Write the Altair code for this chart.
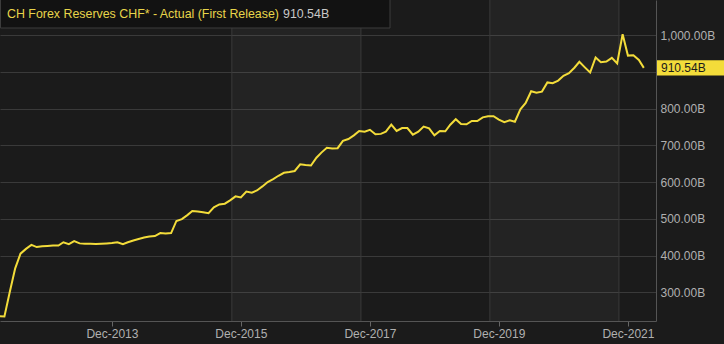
import altair as alt
import pandas as pd

# ---- data ----
dates = pd.date_range("2012-03-01", periods=121, freq="MS").strftime("%Y-%m-%d").tolist()
values = [
    235, 234, 300, 365, 405, 418, 429, 423, 425, 426,
    427, 427, 436, 431, 439, 433, 432, 432, 431, 432,
    433, 434, 436, 431, 436, 441, 445, 449, 452, 453,
    461, 460, 461, 494, 499, 510, 521, 520, 518, 515,
    531, 539, 541, 550, 561, 558, 574, 571, 577, 588,
    600, 608, 617, 625, 627, 630, 648, 646, 645, 666,
    680, 693, 691, 692, 712, 717, 727, 739, 737, 742,
    730, 731, 737, 756, 739, 747, 747, 729, 737, 751,
    746, 727, 739, 738, 756, 771, 758, 757, 766, 766,
    776, 779, 779, 770, 763, 768, 764, 798, 815, 847,
    843, 846, 871, 869, 876, 889, 896, 911, 927, 912,
    898, 939, 926, 928, 938, 923, 1002, 944, 945, 932,
    910.54,
]
tick_years = [2013, 2015, 2017, 2019, 2021]
band_starts = ["2015-10-11", "2019-10-11"]
band_ends = ["2017-10-11", "2021-10-11"]
grid_dates = ["2015-10-11", "2017-10-11", "2019-10-11", "2021-10-11"]
y_ticks = [300, 400, 500, 600, 700, 800, 900, 1000]
last_value = 910.54
title_text = "CH Forex Reserves CHF* - Actual (First Release)"
last_label = "910.54B"

# ---- styling ----
BG = "#1b1b1b"
GRID = "#3a3a3a"
YELLOW = "#f3dc3a"
LABEL = "#b0b0b0"
FONT = "Liberation Sans"
W, H = 656, 321

df = pd.DataFrame({"date": dates, "value": values})
bands = pd.DataFrame({"start": band_starts, "end": band_ends})
grids = pd.DataFrame({"d": grid_dates})
last_df = pd.DataFrame({"value": [last_value], "label": [last_label]})
one = pd.DataFrame({"a": [0]})

xscale = alt.Scale(
    type="utc",
    domain=[alt.DateTime(year=2012, month=3, date=7, utc=True),
            alt.DateTime(year=2022, month=5, date=9, utc=True)],
)
yscale = alt.Scale(domain=[221.8, 1095.3], nice=False, zero=False)

band_layer = alt.Chart(bands).mark_rect(fill="#ffffff", opacity=0.035).encode(
    x=alt.X("start:T", scale=xscale),
    x2="end:T",
    y=alt.value(0),
    y2=alt.value(H),
)

vgrid = alt.Chart(grids).mark_rule(color=GRID, strokeWidth=1).encode(
    x=alt.X("d:T", scale=xscale),
    y=alt.value(0),
    y2=alt.value(H),
)

line = alt.Chart(df).mark_line(color=YELLOW, strokeWidth=2, clip=True).encode(
    x=alt.X(
        "date:T",
        scale=xscale,
        title=None,
        axis=alt.Axis(
            values=[alt.DateTime(year=y, month=12, date=1, utc=True) for y in tick_years],
            labelExpr="utcFormat(datum.value, '%b-%Y')",
            grid=False,
            domainColor="#555555",
            tickColor="#666666",
            tickSize=5,
            labelColor=LABEL,
            labelFontSize=12,
            labelFont=FONT,
            labelPadding=2,
        ),
    ),
    y=alt.Y(
        "value:Q",
        scale=yscale,
        title=None,
        axis=alt.Axis(
            orient="right",
            values=y_ticks,
            labelExpr="datum.value == 900 ? '' : format(datum.value, ',.2f') + 'B'",
            ticks=False,
            grid=True,
            gridColor=GRID,
            domainColor="#555555",
            labelColor=LABEL,
            labelFontSize=12,
            labelFont=FONT,
            labelPadding=4,
        ),
    ),
)

title_box = alt.Chart(one).mark_rect(fill="#121212", stroke="#3c3c3c", strokeWidth=1).encode(
    x=alt.value(0.5), x2=alt.value(390), y=alt.value(-1), y2=alt.value(28)
)
title_txt = alt.Chart(one).mark_text(
    text=title_text, color="#e8d54a", fontSize=12.4, font=FONT, align="left", baseline="middle"
).encode(x=alt.value(7), y=alt.value(14))
title_val = alt.Chart(one).mark_text(
    text=last_label, color="#c8c8c8", fontSize=12.4, font=FONT, align="left", baseline="middle"
).encode(x=alt.value(283), y=alt.value(14))

last_box = alt.Chart(last_df).transform_calculate(
    top="datum.value + 20.5", bot="datum.value - 20.5"
).mark_rect(fill=YELLOW).encode(
    x=alt.value(657), x2=alt.value(724),
    y=alt.Y("top:Q", scale=yscale), y2="bot:Q",
)
last_txt = alt.Chart(last_df).mark_text(
    color="#1b1b1b", fontSize=12, font=FONT, align="left", baseline="middle"
).encode(
    x=alt.value(661), y=alt.Y("value:Q", scale=yscale), text="label:N"
)

chart = alt.layer(
    band_layer, vgrid, line, title_box, title_txt, title_val, last_box, last_txt
).properties(
    width=W, height=H,
    autosize=alt.AutoSizeParams(type="none"),
    padding={"left": 0, "top": 0, "right": 724 - W, "bottom": 344 - H},
    background=BG,
).configure_view(fill=BG, stroke=None)

chart.save("out.html", embed_options={"renderer": "svg", "actions": False})
